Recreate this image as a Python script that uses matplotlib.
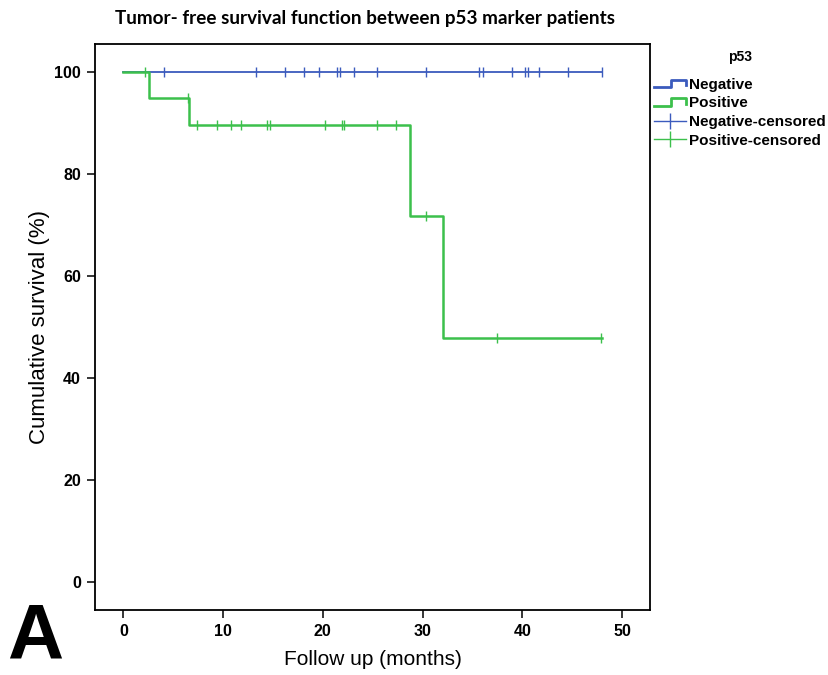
import numpy as np
import matplotlib
matplotlib.use("Agg")
import matplotlib.pyplot as plt
from matplotlib.lines import Line2D
from matplotlib.legend_handler import HandlerBase

# ---------------- Kaplan-Meier data (months, % surviving) ----------------
neg_step_times = [0.0, 48.0]
neg_step_surv = [100.0, 100.0]
neg_censored = [4.1, 13.3, 16.2, 18.1, 19.6, 21.4, 21.7, 23.1, 25.4, 30.3,
                35.7, 36.1, 39.0, 40.3, 40.6, 41.7, 44.6, 48.0]

pos_step_times = [0.0, 2.6, 6.6, 28.7, 32.0, 48.0]
pos_step_surv = [100.0, 95.0, 89.7, 71.8, 47.9, 47.9]
pos_censored = [2.2, 6.45, 7.4, 9.4, 10.8, 11.8, 14.4, 14.7, 20.2, 21.9,
                22.1, 25.4, 27.3, 30.3, 37.5, 47.9]

group_labels = ["Negative", "Positive"]
x_ticks = [0, 10, 20, 30, 40, 50]
y_ticks = [0, 20, 40, 60, 80, 100]

BLUE = "#3b5bbd"
GREEN = "#3cc04c"

plt.rcParams['font.family'] = ['Liberation Sans', 'DejaVu Sans']


def surv_at(t, times, surv):
    # value of the step function just after time t
    idx = np.searchsorted(times, t, side='right') - 1
    return np.asarray(surv)[idx]


class StepHandler(HandlerBase):
    """Legend icon shaped like a small survival step."""
    def create_artists(self, legend, orig_handle, xdescent, ydescent,
                       width, height, fontsize, trans):
        x0, y0 = -xdescent, -ydescent
        xs = [x0, x0 + 0.55 * width, x0 + 0.55 * width, x0 + width, x0 + width]
        ys = [y0 + 0.15 * height, y0 + 0.15 * height, y0 + 0.85 * height,
              y0 + 0.85 * height, y0 + 0.35 * height]
        ln = Line2D(xs, ys, color=orig_handle.get_color(),
                    lw=orig_handle.get_linewidth(), transform=trans)
        return [ln]


fig = plt.figure(figsize=(8.29, 6.75), dpi=100)
ax = fig.add_axes([0.1146, 0.0963, 0.6695, 0.8385])

neg_line, = ax.step(neg_step_times, neg_step_surv, where='post', color=BLUE, lw=1.3)
pos_line, = ax.step(pos_step_times, pos_step_surv, where='post', color=GREEN, lw=1.8)

ax.plot(neg_censored, surv_at(neg_censored, neg_step_times, neg_step_surv),
        ls='none', marker='|', ms=6.5, mew=1.0, color=BLUE)
ax.plot(pos_censored, surv_at(pos_censored, pos_step_times, pos_step_surv),
        ls='none', marker='|', ms=6.5, mew=1.0, color=GREEN)

ax.set_xlim(-2.84, 52.8)
ax.set_ylim(-5.45, 105.5)
ax.set_xticks(x_ticks)
ax.set_yticks(y_ticks)

tick_font = dict(family=['Liberation Sans Narrow', 'Liberation Sans'], weight='bold', size=11.5)
ax.set_xticklabels([str(v) for v in x_ticks], fontdict=tick_font)
ax.set_yticklabels([str(v) for v in y_ticks], fontdict=tick_font)
ax.tick_params(direction='out', length=6, width=1.1, pad=4)
for sp in ax.spines.values():
    sp.set_linewidth(1.3)

ax.set_xlabel('Follow up (months)', fontsize=15, labelpad=8)
ax.set_ylabel('Cumulative survival (%)', fontsize=16, labelpad=3)

fig.text(0.44, 0.972, 'Tumor- free survival function between p53 marker patients',
         ha='center', va='center', fontsize=13.6, weight='bold',
         family=['Lato', 'DejaVu Sans'])
fig.text(0.008, 0.0, 'A', ha='left', va='bottom', fontsize=56, weight='bold')

# legend: step icons for the curves, crosses for censored cases
handles = [
    Line2D([], [], color=BLUE, lw=2.0),
    Line2D([], [], color=GREEN, lw=2.0),
    Line2D([0], [0], color=BLUE, lw=1.0, marker='|', ms=11, mew=1.0),
    Line2D([0], [0], color=GREEN, lw=1.0, marker='|', ms=11, mew=1.0),
]
labels = group_labels + [g + '-censored' for g in group_labels]
fig.text(740 / 829, 1 - 57 / 675, 'p53', ha='center', va='center',
         fontsize=10, weight='bold')
leg = ax.legend(handles, labels, loc='upper left', bbox_to_anchor=(0.7795, 0.896),
                bbox_transform=fig.transFigure, frameon=False,
                prop=dict(weight='bold', size=11),
                handlelength=2.1, handletextpad=0.2, labelspacing=0.3, borderpad=0.0,
                handler_map={handles[0]: StepHandler(), handles[1]: StepHandler()})

fig.savefig('out.png', dpi=100)
